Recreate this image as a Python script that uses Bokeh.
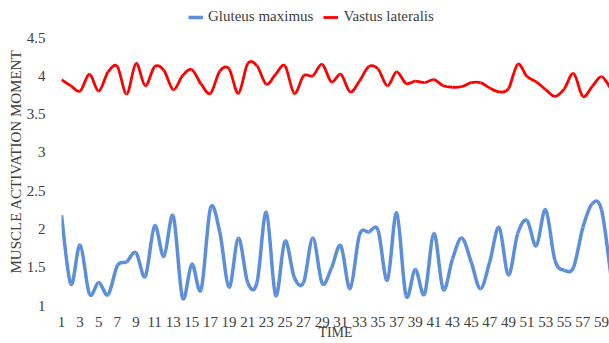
from bokeh.plotting import figure
from bokeh.models import Range1d, FixedTicker, Legend, LegendItem, Title, ColumnDataSource
from bokeh.embed import file_html
from bokeh.resources import INLINE

# ---- data ----
time = list(range(1, 61))
gluteus = [2.18, 1.28, 1.79, 1.15, 1.30, 1.14, 1.52, 1.57, 1.69, 1.38,
           2.04, 1.64, 2.17, 1.10, 1.54, 1.21, 2.27, 1.96, 1.24, 1.88,
           1.30, 1.30, 2.22, 1.13, 1.84, 1.37, 1.30, 1.88, 1.29, 1.49,
           1.78, 1.22, 1.92, 1.96, 1.98, 1.33, 2.21, 1.13, 1.47, 1.15,
           1.94, 1.21, 1.61, 1.88, 1.57, 1.22, 1.57, 2.02, 1.40, 1.94,
           2.11, 1.78, 2.25, 1.59, 1.46, 1.50, 2.02, 2.33, 2.25, 1.40]
vastus = [3.95, 3.87, 3.80, 4.02, 3.80, 4.05, 4.12, 3.76, 4.16, 3.87,
          4.12, 4.07, 3.82, 4.00, 4.08, 3.89, 3.77, 4.06, 4.09, 3.77,
          4.16, 4.13, 3.89, 4.02, 4.13, 3.77, 4.00, 4.00, 4.15, 3.92,
          4.02, 3.79, 3.93, 4.12, 4.09, 3.87, 4.05, 3.90, 3.93, 3.91,
          3.95, 3.87, 3.85, 3.86, 3.91, 3.91, 3.84, 3.79, 3.83, 4.15,
          3.99, 3.92, 3.82, 3.73, 3.83, 4.03, 3.73, 3.86, 3.99, 3.83]
series_names = ["Gluteus maximus", "Vastus lateralis"]
x_ticks = list(range(1, 60, 2))
x_tick_labels = [str(t) for t in x_ticks]
y_ticks = [1, 1.5, 2, 2.5, 3, 3.5, 4, 4.5]
y_tick_labels = ["1", "1.5", "2", "2.5", "3", "3.5", "4", "4.5"]

FONT = "Liberation Serif"
TXT = "#404040"


def smooth_source(xs, ys, t=1.0 / 6.0):
    """Bezier segments (Catmull-Rom style smoothing, as in spreadsheet smoothed lines)."""
    n = len(xs)
    d = dict(x0=[], y0=[], x1=[], y1=[], cx0=[], cy0=[], cx1=[], cy1=[])
    for i in range(n - 1):
        i0 = max(i - 1, 0)
        i3 = min(i + 2, n - 1)
        d["x0"].append(xs[i]); d["y0"].append(ys[i])
        d["x1"].append(xs[i + 1]); d["y1"].append(ys[i + 1])
        d["cx0"].append(xs[i] + (xs[i + 1] - xs[i0]) * t)
        d["cy0"].append(ys[i] + (ys[i + 1] - ys[i0]) * t)
        d["cx1"].append(xs[i + 1] - (xs[i3] - xs[i]) * t)
        d["cy1"].append(ys[i + 1] - (ys[i3] - ys[i]) * t)
    return ColumnDataSource(d)


# plot frame spans the full height above the x axis; the top strip holds the legend
p = figure(width=609, height=343, output_backend="svg", toolbar_location=None,
           x_range=Range1d(1, 59.86), y_range=Range1d(1, 4.5 + 37 / (268 / 3.5)),
           min_border_left=61, min_border_right=0, min_border_top=0, min_border_bottom=38)
p.outline_line_color = None
p.xgrid.grid_line_color = None
p.ygrid.grid_line_color = None

r1 = p.bezier(x0="x0", y0="y0", x1="x1", y1="y1", cx0="cx0", cy0="cy0", cx1="cx1", cy1="cy1",
              source=smooth_source(time, gluteus), line_color="#5B8FDC", line_width=3.5)
r2 = p.bezier(x0="x0", y0="y0", x1="x1", y1="y1", cx0="cx0", cy0="cy0", cx1="cx1", cy1="cy1",
              source=smooth_source(time, vastus), line_color="#FF0000", line_width=2.8)

for ax in (p.xaxis[0], p.yaxis[0]):
    ax.axis_line_color = None
    ax.major_tick_line_color = None
    ax.minor_tick_line_color = None
    ax.major_label_text_font = FONT
    ax.major_label_text_font_size = "15px"
    ax.major_label_text_color = TXT

p.xaxis.ticker = FixedTicker(ticks=x_ticks)
p.xaxis.major_label_overrides = dict(zip(x_ticks, x_tick_labels))
p.xaxis.major_label_standoff = 5
p.xaxis.axis_label = "TIME"
p.xaxis.axis_label_text_font = FONT
p.xaxis.axis_label_text_font_size = "14px"
p.xaxis.axis_label_text_font_style = "normal"
p.xaxis.axis_label_text_color = TXT
p.xaxis.axis_label_standoff = -5

p.yaxis.ticker = FixedTicker(ticks=y_ticks)
p.yaxis.major_label_overrides = dict(zip(y_ticks, y_tick_labels))
p.yaxis.major_label_standoff = 10

ytitle = Title(text="MUSCLE ACTIVATION MOMENT", align="left", offset=32, standoff=0,
               text_font=FONT, text_font_size="15px", text_font_style="normal", text_color=TXT)
p.add_layout(ytitle, "left")

legend = Legend(items=[LegendItem(label=series_names[0], renderers=[r1]),
                       LegendItem(label=series_names[1], renderers=[r2])],
                orientation="horizontal", location=(127, 280),
                padding=0, margin=0, spacing=10, label_standoff=5,
                glyph_width=15, glyph_height=16, label_height=16,
                label_text_font=FONT, label_text_font_size="15px", label_text_color=TXT,
                border_line_color=None, background_fill_alpha=0)
p.add_layout(legend)

open("out.html", "w").write(file_html(p, INLINE))
